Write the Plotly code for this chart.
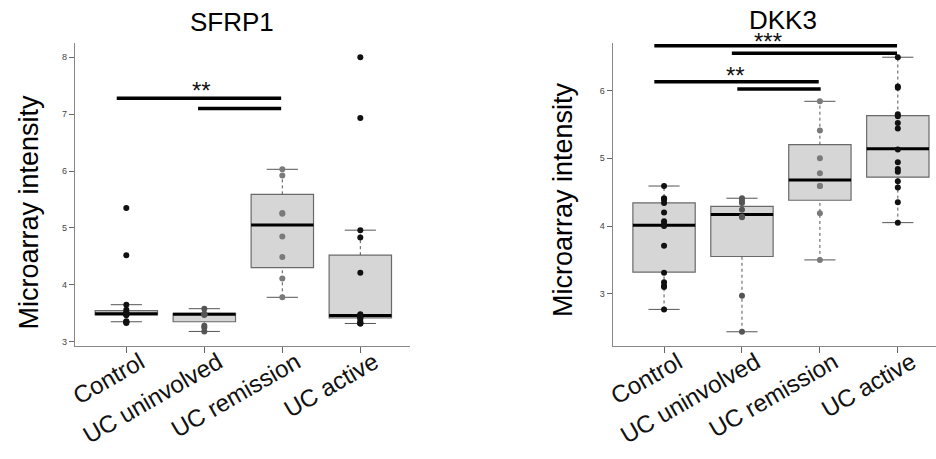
import plotly.graph_objects as go

categories = ["Control", "UC uninvolved", "UC remission", "UC active"]
cat_pos = [1, 2, 3, 4]

# ---- SFRP1 ----
sfrp1_points = [
    [5.35, 4.52, 3.65, 3.56, 3.52, 3.50, 3.49, 3.48, 3.47, 3.47, 3.36, 3.35, 3.34, 3.33],
    [3.58, 3.49, 3.48, 3.48, 3.47, 3.28, 3.25, 3.18],
    [6.03, 5.92, 5.26, 5.25, 4.85, 4.49, 4.11, 3.78],
    [8.00, 6.93, 4.96, 4.83, 4.21, 3.48, 3.47, 3.46, 3.45, 3.45, 3.44, 3.42, 3.40,
     3.35, 3.33, 3.32, 3.32],
]
sfrp1_q1 = [3.47, 3.35, 4.30, 3.42]
sfrp1_median = [3.49, 3.48, 5.05, 3.46]
sfrp1_q3 = [3.545, 3.50, 5.59, 4.52]
sfrp1_low = [3.35, 3.18, 3.78, 3.32]
sfrp1_high = [3.65, 3.58, 6.03, 4.96]
sfrp1_sig_bars = [(0.877, 2.985, 7.28), (1.92, 2.985, 7.10)]
sfrp1_sig_text = [("**", 1.96, 7.28)]

# ---- DKK3 ----
dkk3_points = [
    [4.59, 4.41, 4.40, 4.39, 4.34, 4.20, 4.07, 4.03, 4.00, 3.71, 3.31, 3.17, 3.12, 3.10, 2.77],
    [4.41, 4.37, 4.34, 4.24, 4.14, 4.13, 2.97, 2.44],
    [5.84, 5.41, 5.00, 4.78, 4.59, 4.59, 4.19, 3.50],
    [6.49, 6.06, 6.04, 5.65, 5.62, 5.52, 5.44, 5.13, 4.94, 4.84, 4.80, 4.66, 4.57, 4.35, 4.05],
]
dkk3_q1 = [3.32, 3.55, 4.38, 4.72]
dkk3_median = [4.01, 4.17, 4.68, 5.14]
dkk3_q3 = [4.34, 4.29, 5.20, 5.63]
dkk3_low = [2.77, 2.44, 3.50, 4.05]
dkk3_high = [4.59, 4.41, 5.84, 6.49]
dkk3_sig_bars = [(0.875, 3.99, 6.66), (1.87, 3.99, 6.55), (0.875, 2.985, 6.13), (1.94, 3.01, 6.02)]
dkk3_sig_text = [("***", 2.33, 6.66), ("**", 1.92, 6.13)]

point_colors = ["#111111", "#555555", "#7a7a7a", "#111111"]

BOX_W = 0.8
CAP_HALF = 0.2

fig = go.Figure()


def add_panel(xa, ya, points, q1, med, q3, lo, hi, bars, texts, star_shift):
    xref = "x" if xa == "xaxis" else "x2"
    yref = "y" if ya == "yaxis" else "y2"
    # boxes (no whiskers)
    fig.add_trace(go.Box(
        x=cat_pos, q1=q1, median=med, q3=q3, lowerfence=q1, upperfence=q3,
        width=BOX_W, fillcolor="#d6d6d6", line=dict(color="#6a6a6a", width=1.2),
        boxpoints=False, hoverinfo="skip", xaxis=xref, yaxis=yref,
    ))
    # dashed whiskers
    wx, wy = [], []
    for c, a, b, l, h in zip(cat_pos, q1, q3, lo, hi):
        wx += [c, c, None, c, c, None]
        wy += [b, h, None, l, a, None]
    fig.add_trace(go.Scatter(x=wx, y=wy, mode="lines", line=dict(color="#555555", width=1, dash="dot"),
                             hoverinfo="skip", xaxis=xref, yaxis=yref))
    # caps
    cx, cy = [], []
    for c, l, h in zip(cat_pos, lo, hi):
        cx += [c - CAP_HALF, c + CAP_HALF, None, c - CAP_HALF, c + CAP_HALF, None]
        cy += [h, h, None, l, l, None]
    fig.add_trace(go.Scatter(x=cx, y=cy, mode="lines", line=dict(color="#555555", width=1),
                             hoverinfo="skip", xaxis=xref, yaxis=yref))
    # medians
    mx, my = [], []
    for c, m in zip(cat_pos, med):
        mx += [c - BOX_W / 2, c + BOX_W / 2, None]
        my += [m, m, None]
    fig.add_trace(go.Scatter(x=mx, y=my, mode="lines", line=dict(color="#000000", width=3),
                             hoverinfo="skip", xaxis=xref, yaxis=yref))
    # points
    for c, pts, col in zip(cat_pos, points, point_colors):
        fig.add_trace(go.Scatter(x=[c] * len(pts), y=pts, mode="markers",
                                 marker=dict(color=col, size=6),
                                 hoverinfo="skip", xaxis=xref, yaxis=yref))
    # significance bars
    sx, sy = [], []
    for x0, x1, yv in bars:
        sx += [x0, x1, None]
        sy += [yv, yv, None]
    fig.add_trace(go.Scatter(x=sx, y=sy, mode="lines", line=dict(color="#000000", width=3.5),
                             hoverinfo="skip", xaxis=xref, yaxis=yref))
    for (t, xv, yv), ys in zip(texts, star_shift):
        fig.add_annotation(text=t, x=xv, y=yv, xref=xref, yref=yref, showarrow=False,
                           font=dict(size=24, color="#111111", family="Liberation Sans, Arial"),
                           yanchor="middle", yshift=ys)


add_panel("xaxis", "yaxis", sfrp1_points, sfrp1_q1, sfrp1_median, sfrp1_q3, sfrp1_low, sfrp1_high,
          sfrp1_sig_bars, sfrp1_sig_text, [8])
add_panel("xaxis2", "yaxis2", dkk3_points, dkk3_q1, dkk3_median, dkk3_q3, dkk3_low, dkk3_high,
          dkk3_sig_bars, dkk3_sig_text, [4, 6])

W, H = 936, 459
ydom = [1 - 346 / H, 1 - 43 / H]

xcommon = dict(tickmode="array", tickvals=cat_pos, ticktext=categories, tickangle=-30,
               tickfont=dict(size=24, color="#111111", family="Liberation Sans, Arial"),
               showline=True, linecolor="#888888", linewidth=1.2, ticks="outside", ticklen=6,
               tickcolor="#666666", showgrid=False, zeroline=False, ticklabelshift=14,
               ticklabelstandoff=-14, automargin=False)
ycommon = dict(showline=True, linecolor="#888888", linewidth=1.2, ticks="outside", ticklen=5,
               tickcolor="#666666", showgrid=False, zeroline=False, automargin=False,
               tickfont=dict(size=9, color="#444444", family="Liberation Sans, Arial"))

fig.update_layout(
    width=W, height=H, margin=dict(l=0, r=0, t=0, b=0, autoexpand=False),
    paper_bgcolor="white", plot_bgcolor="white", showlegend=False,
    xaxis=dict(domain=[75 / W, 410 / W], range=[0.342, 4.637], anchor="y", **xcommon),
    yaxis=dict(domain=ydom, range=[2.924, 8.25], anchor="x", tickvals=[3, 4, 5, 6, 7, 8], **ycommon),
    xaxis2=dict(domain=[612.7 / W, 1.0], range=[0.341, 4.49], anchor="y2", **xcommon),
    yaxis2=dict(domain=ydom, range=[2.23, 6.7], anchor="x2", tickvals=[3, 4, 5, 6], **ycommon),
)

titles = [("SFRP1", 232, 22), ("DKK3", 783, 20)]
for t, px, py in titles:
    fig.add_annotation(text=t, x=px / W, y=1 - py / H, xref="paper", yref="paper", showarrow=False,
                       font=dict(size=26, color="#000000", family="Liberation Sans, Arial"),
                       xanchor="center", yanchor="middle")

ytitles = [(28.5, 212), (563, 200)]
for px, py in ytitles:
    fig.add_annotation(text="Microarray intensity", x=px / W, y=1 - py / H, xref="paper", yref="paper",
                       showarrow=False, textangle=-90,
                       font=dict(size=27, color="#000000", family="Liberation Sans, Arial"),
                       xanchor="center", yanchor="middle")

fig.write_html("out.html")
